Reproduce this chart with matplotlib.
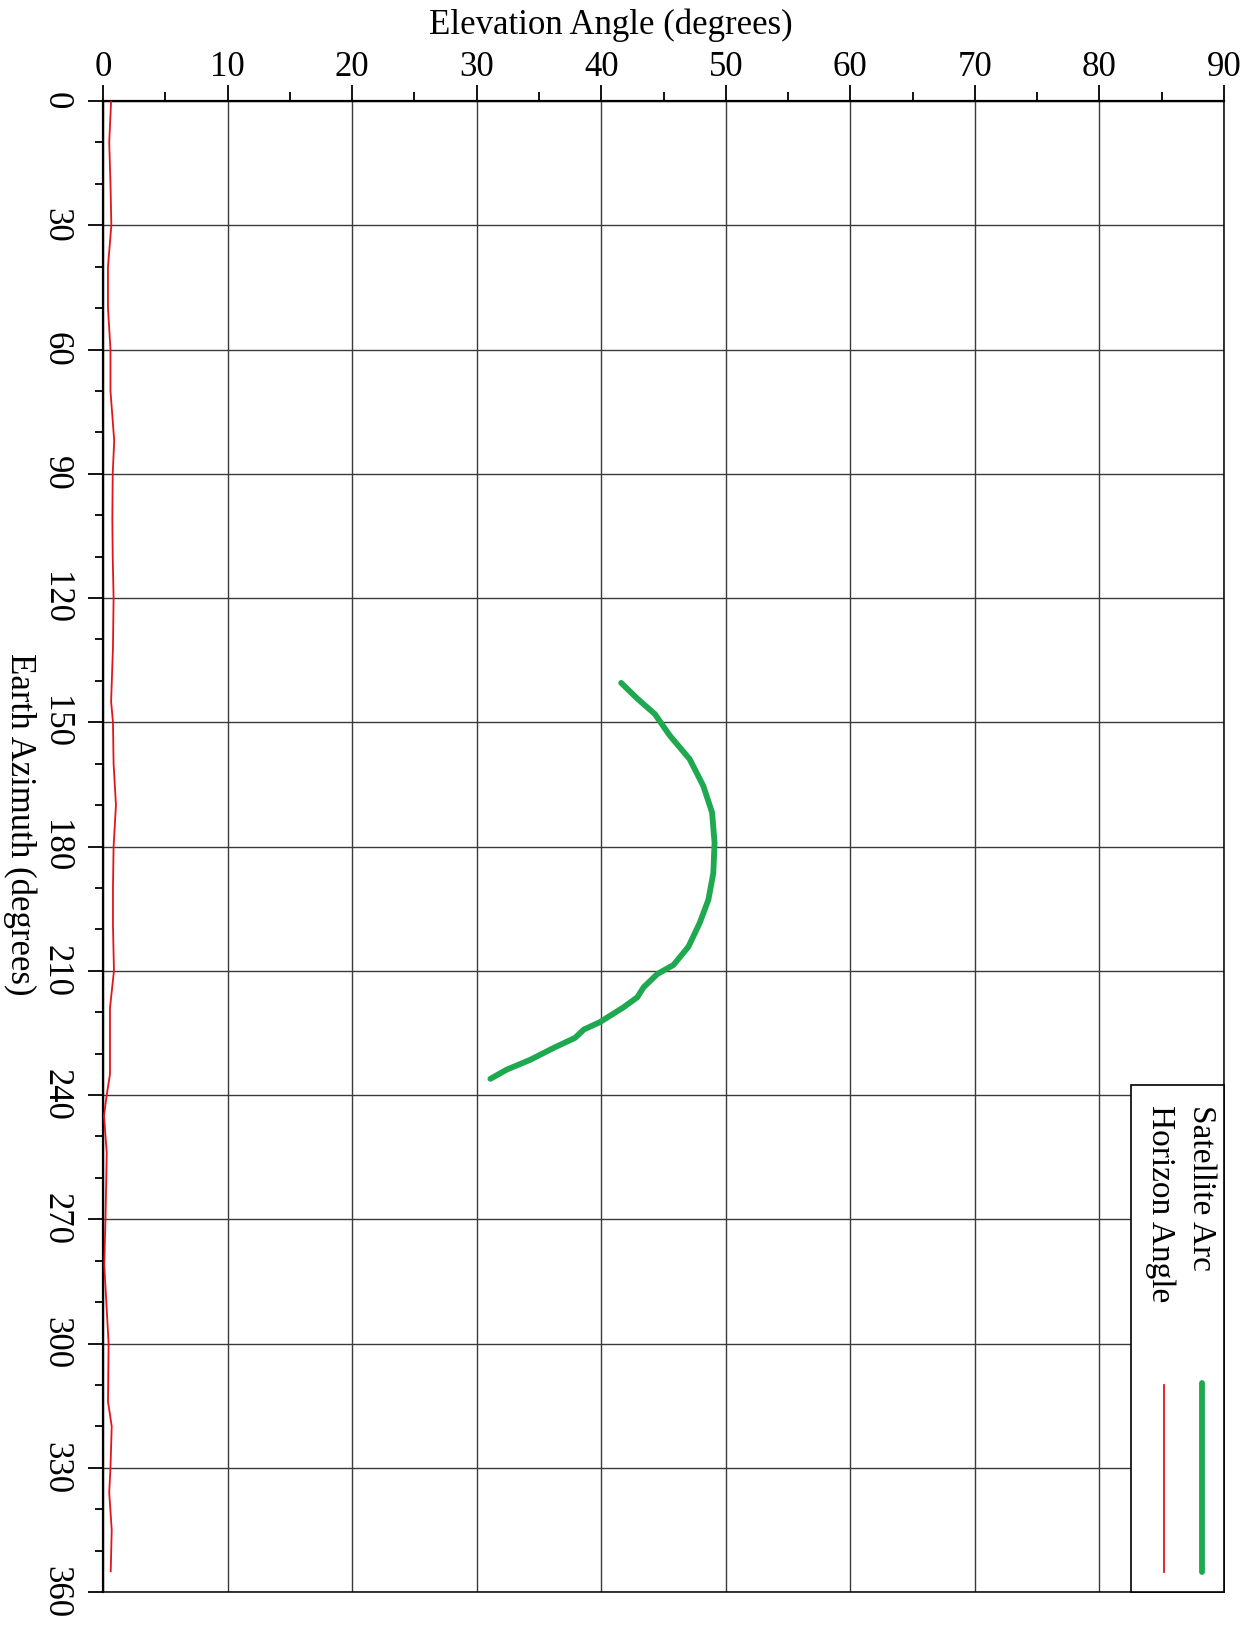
import matplotlib
matplotlib.use("Agg")
import matplotlib.pyplot as plt
from matplotlib.patches import Rectangle
from matplotlib.ticker import MultipleLocator

plt.rcParams['font.family'] = ['Liberation Serif', 'DejaVu Serif']

# horizon angle (red)
horizon_az = [0, 10, 20, 30, 40, 50, 60, 70, 82, 90, 101, 110, 120, 132, 145, 150,
              160, 170, 180, 190, 199, 210, 219, 235, 240, 245, 254, 270, 281, 300,
              314, 320, 330, 336, 345, 355]
horizon_el = [0.65, 0.5, 0.6, 0.67, 0.4, 0.4, 0.6, 0.6, 0.9, 0.78, 0.75, 0.78, 0.85, 0.8,
              0.65, 0.8, 0.85, 1.04, 0.85, 0.8, 0.8, 0.88, 0.56, 0.56, 0.3, 0.08, 0.3,
              0.2, 0.1, 0.45, 0.4, 0.7, 0.6, 0.5, 0.7, 0.62]

# satellite arc (green)
arc_az = [140.5, 144.3, 148.0, 153.2, 158.9, 165.4, 171.8, 179.1, 186.4, 192.9, 198.5,
          204.2, 208.6, 210.8, 214.0, 216.4, 218.8, 222.4, 224.2, 226.2, 228.6, 231.5,
          233.9, 236.1]
arc_el = [41.6, 42.9, 44.3, 45.5, 47.1, 48.2, 48.9, 49.1, 49.0, 48.6, 47.9, 47.0, 45.8,
          44.5, 43.4, 42.9, 41.8, 39.9, 38.6, 37.9, 36.2, 34.3, 32.4, 31.1]

el_ticks = list(range(0, 91, 10))
az_ticks = list(range(0, 361, 30))

GREEN = '#1ea84f'
RED = '#e3141c'

fig = plt.figure(figsize=(12.57, 16.25), dpi=100)
ax = fig.add_axes([103 / 1257, 33 / 1625, 1121 / 1257, 1491 / 1625])

ax.plot(horizon_el, horizon_az, color=RED, lw=1.3, zorder=3)
ax.plot(arc_el, arc_az, color=GREEN, lw=4.2, solid_capstyle='round', zorder=3)

ax.set_xlim(0, 90)
ax.set_ylim(360, 0)
ax.xaxis.tick_top()
ax.set_xticks(el_ticks)
ax.set_yticks(az_ticks)
ax.xaxis.set_minor_locator(MultipleLocator(5))
ax.yaxis.set_minor_locator(MultipleLocator(10))
ax.tick_params(axis='x', which='major', direction='out', length=11.5, width=1.3,
               labelsize=25, pad=1, top=True, bottom=False)
ax.tick_params(axis='x', which='minor', direction='out', length=6.5, width=1.3,
               top=True, bottom=False)
ax.tick_params(axis='y', which='major', direction='out', length=11, width=1.3,
               labelsize=25, pad=11, labelrotation=-90, left=True, right=False)
ax.tick_params(axis='y', which='minor', direction='out', length=6, width=1.3,
               left=True, right=False)
for lab in ax.get_yticklabels():
    lab.set_verticalalignment('center')

ax.grid(True, which='major', color='#3a3a3a', lw=1.0, zorder=1)
ax.set_axisbelow(True)
for side in ['left', 'top']:
    ax.spines[side].set_linewidth(1.6)
for side in ['right', 'bottom']:
    ax.spines[side].set_linewidth(1.1)

ax.text(0.453, 1.051, 'Elevation Angle (degrees)', transform=ax.transAxes,
        ha='center', va='center', fontsize=25)
ax.text(-0.074, 0.515, 'Earth Azimuth (degrees)', transform=ax.transAxes,
        ha='center', va='center', rotation=-90, fontsize=25)

# rotated legend box in the lower right corner
ax.add_patch(Rectangle((0.917, 0.0), 0.083, 0.340, transform=ax.transAxes,
                       facecolor='white', edgecolor='black', lw=1.2, zorder=4,
                       clip_on=False))
ax.text(0.980, 0.3266, 'Satellite Arc', transform=ax.transAxes, rotation=-90,
        ha='center', va='top', fontsize=24, zorder=5)
ax.text(0.943, 0.3266, 'Horizon Angle', transform=ax.transAxes, rotation=-90,
        ha='center', va='top', fontsize=24, zorder=5)
ax.plot([0.9804, 0.9804], [0.140, 0.0134], transform=ax.transAxes, color=GREEN,
        lw=4.2, solid_capstyle='round', zorder=5)
ax.plot([0.9465, 0.9465], [0.139, 0.0134], transform=ax.transAxes, color=RED,
        lw=1.3, zorder=5)

fig.savefig('out.png', dpi=100)
